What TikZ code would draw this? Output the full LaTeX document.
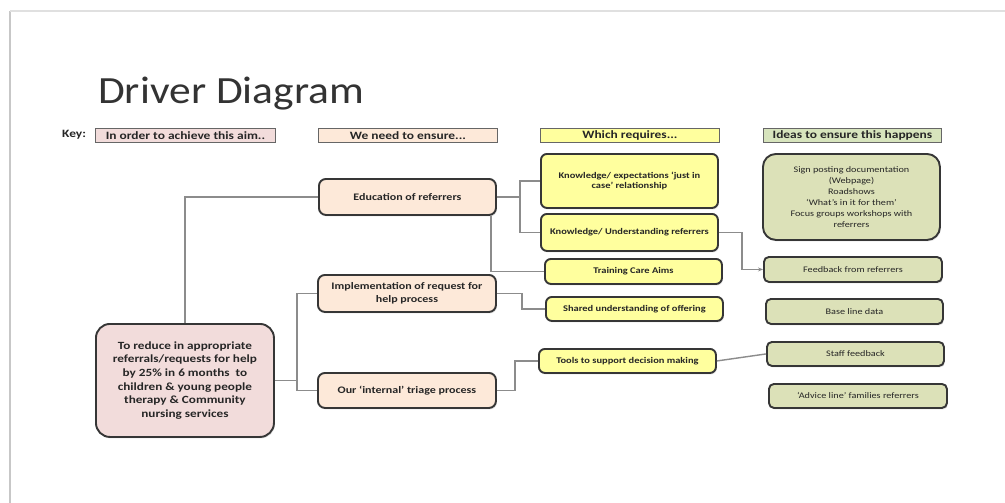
\documentclass[tikz,border=0pt]{standalone}
\usepackage{fontspec}
\setmainfont[FakeStretch=1.2]{Carlito}
\newfontfamily\titlefont[FakeStretch=1.13]{Carlito}
\usetikzlibrary{arrows.meta,shadows}

\definecolor{aimfill}{HTML}{F2DCDB}
\definecolor{needfill}{HTML}{FDE9D9}
\definecolor{reqfill}{HTML}{FFFF9E}
\definecolor{ideafill}{HTML}{DCE1B8}
\definecolor{keyidea}{HTML}{D7E4BD}
\definecolor{boxline}{HTML}{363636}
\definecolor{linkline}{HTML}{8C8C8C}
\definecolor{inktext}{HTML}{262626}

\tikzset{
  x=1pt, y=-1pt,
  card/.style={draw=boxline, line width=1.9pt, align=center, inner sep=2pt,
    anchor=north west, text=inktext,
    drop shadow={opacity=0.22, shadow xshift=1pt, shadow yshift=-1.5pt}},
  aimbox/.style={card, fill=aimfill, rounded corners=14pt,
    font=\bfseries\fontsize{11}{13.7}\selectfont},
  needbox/.style={card, fill=needfill, rounded corners=7pt,
    font=\bfseries\fontsize{10}{12.5}\selectfont},
  reqbox/.style={card, fill=reqfill, rounded corners=6pt,
    font=\bfseries\fontsize{8.7}{10.5}\selectfont},
  ideabox/.style={card, fill=ideafill, rounded corners=5pt,
    font=\fontsize{8.5}{11}\selectfont},
  keybox/.style={draw=gray!80!black, line width=0.9pt, anchor=north west,
    inner sep=0pt, text=inktext, font=\bfseries\fontsize{11.2}{12}\selectfont},
  link/.style={draw=linkline, line width=1.4pt},
}

\begin{document}
\begin{tikzpicture}
\useasboundingbox (0,0) rectangle (1005,503);
\fill[white] (0,0) rectangle (1005,503);

% slide edge
\draw[color=black!22, line width=2.5pt] (10,503) -- (10,11);
\draw[color=black!12, line width=2pt] (10,11) -- (1005,11);

% title
\node[anchor=base west, inner sep=0pt, text=black!80,
  font=\titlefont\fontsize{38.5}{40}\selectfont] (title) at (98,103) {Driver Diagram};

% key row
\node[anchor=west, inner sep=0pt, text=inktext,
  font=\bfseries\fontsize{11.2}{12}\selectfont] (keylbl) at (62,135) {Key:};
\node[keybox, fill=aimfill, minimum width=180pt, minimum height=14pt] (key1) at (95,128) {In order to achieve this aim..};
\node[keybox, fill=needfill, minimum width=179pt, minimum height=14pt] (key2) at (318,128) {We need to ensure...};
\node[keybox, fill=reqfill, minimum width=179pt, minimum height=14pt] (key3) at (540,128) {Which requires...};
\node[keybox, fill=keyidea, minimum width=178pt, minimum height=14pt] (key4) at (763,128) {Ideas to ensure this happens};

% aim
\node[aimbox, minimum width=178pt, minimum height=113pt] (aim) at (95,323)
  {To reduce in appropriate\\referrals/requests for help\\by 25\% in 6 months\ \ to\\children \& young people\\therapy \& Community\\nursing services};

% primary drivers
\node[needbox, minimum width=177pt, minimum height=36pt] (edu) at (318,178) {Education of referrers};
\node[needbox, minimum width=178pt, minimum height=37pt] (impl) at (317,274) {Implementation of request for\\help process};
\node[needbox, minimum width=178pt, minimum height=35pt] (triage) at (317,372) {Our ‘internal’ triage process};

% secondary drivers
\node[reqbox, minimum width=177pt, minimum height=54pt] (kexp) at (540,153) {Knowledge/ expectations ‘just in\\case’ relationship};
\node[reqbox, minimum width=177pt, minimum height=37pt] (kund) at (540,213) {Knowledge/ Understanding referrers};
\node[reqbox, minimum width=177pt, minimum height=25pt] (train) at (544,258) {Training Care Aims};
\node[reqbox, minimum width=177pt, minimum height=24pt] (shared) at (545,296) {Shared understanding of offering};
\node[reqbox, minimum width=177pt, minimum height=24pt] (tools) at (538,348) {Tools to support decision making};

% change ideas
\node[ideabox, rounded corners=13pt, minimum width=177pt, minimum height=86pt] (sign) at (762,153)
  {Sign posting documentation\\(Webpage)\\Roadshows\\‘What’s in it for them’\\Focus groups workshops with\\referrers};
\node[ideabox, minimum width=178pt, minimum height=25pt] (feed) at (763,256) {Feedback from referrers};
\node[ideabox, minimum width=177pt, minimum height=25pt] (base) at (765,298) {Base line data};
\node[ideabox, minimum width=177pt, minimum height=24pt] (staff) at (766,341) {Staff feedback};
\node[ideabox, minimum width=178pt, minimum height=24pt] (advice) at (768,383) {‘Advice line’ families referrers};

% connectors
\path[link] (aim.north) |- (edu.west);
\path[link] (aim.east) -- ++(22,0) |- (impl.west);
\path[link] (aim.east) -- ++(22,0) |- (triage.west);
\path[link] (edu.east) -- ++(23,0) |- (kexp.west);
\path[link] (edu.east) -- ++(23,0) |- (kund.west);
\path[link] ([xshift=-6pt]edu.south east) |- (train.west);
\path[link] (impl.east) -- ++(25,0) |- (shared.west);
\path[link] (triage.east) -- ++(18,0) |- (tools.west);
\path[link, -{Stealth[length=5pt,width=4pt]}] (kund.east) -- ++(23,0) |- (feed.west);
\path[link] (tools.east) -- (staff.west);
\end{tikzpicture}
\end{document}
